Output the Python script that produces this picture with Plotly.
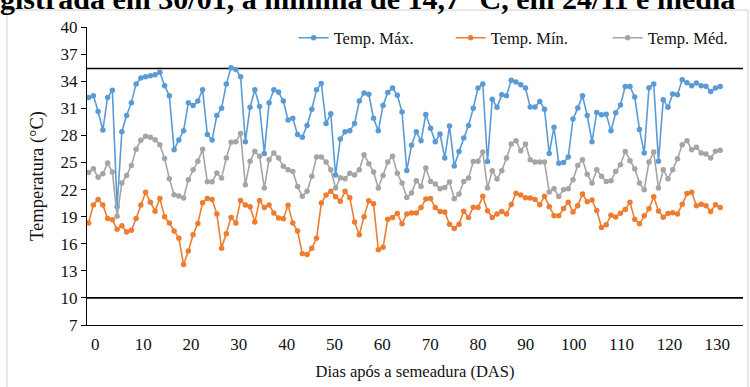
import plotly.graph_objects as go

t_max = [32.2, 32.4, 30.65, 28.6, 32.2, 33.0, 20.1, 28.4, 30.2, 31.6,
         33.7, 34.35, 34.5, 34.6, 34.7, 35.0, 33.5, 32.4, 26.4, 27.5,
         28.5, 31.6, 31.3, 31.8, 33.05, 28.1, 27.5, 30.2, 31.0, 33.7,
         35.5, 35.3, 34.5, 27.3, 31.1, 33.05, 31.2, 26.0, 31.6, 33.05,
         32.8, 31.8, 29.7, 29.9, 28.1, 27.8, 29.1, 30.9, 33.05, 33.75,
         29.3, 30.4, 23.6, 27.6, 28.4, 28.5, 29.3, 31.8, 32.7, 32.55,
         29.9, 28.5, 31.3, 32.76, 33.24, 32.45, 30.6, 24.1, 26.9, 28.4,
         27.4, 30.3, 28.8, 27.3, 28.15, 25.5, 29.05, 24.6, 26.2, 27.7,
         29.1, 31.0, 33.24, 33.7, 25.1, 32.0, 31.1, 32.5, 32.4, 34.1,
         33.9, 33.6, 33.24, 31.13, 31.13, 31.76, 30.9, 26.0, 28.9, 24.9,
         25.0, 25.6, 29.8, 31.02, 32.4, 30.2, 27.3, 30.54, 30.29, 30.33,
         28.5, 30.5, 31.35, 33.42, 33.4, 32.24, 28.65, 26.04, 33.28, 33.7,
         25.12, 31.95, 31.12, 32.58, 32.5, 34.16, 33.83, 33.5, 33.8, 33.5,
         33.43, 32.85, 33.24, 33.4]

t_min = [18.3, 20.3, 20.9, 20.3, 18.8, 18.65, 17.6, 18.0, 17.3, 17.5,
         18.8, 20.3, 21.7, 20.6, 19.6, 21.0, 19.0, 18.3, 17.4, 16.6,
         13.7, 15.2, 17.0, 18.25, 20.55, 21.0, 20.9, 19.3, 15.5, 17.1,
         18.9, 18.3, 20.8, 20.3, 20.1, 18.4, 20.8, 20.0, 20.3, 19.4,
         18.84, 18.77, 20.25, 18.3, 17.4, 14.9, 14.8, 15.5, 16.6, 20.5,
         21.4, 21.8, 21.2, 20.7, 21.8, 21.1, 18.4, 17.0, 19.0, 20.76,
         20.43, 15.34, 15.6, 18.7, 18.9, 19.35, 18.2, 19.3, 19.4, 19.4,
         20.0, 20.95, 21.0, 20.0, 19.58, 19.5, 18.15, 17.7, 18.15, 19.6,
         18.9, 20.05, 20.0, 21.25, 19.65, 18.9, 19.3, 19.58, 19.3, 20.35,
         21.6, 21.4, 21.1, 21.06, 20.9, 20.32, 21.25, 20.1, 19.1, 19.1,
         19.9, 20.6, 19.5, 20.2, 21.5, 20.65, 20.85, 19.67, 17.8, 18.1,
         19.15, 18.95, 19.38, 19.8, 20.58, 18.7, 18.2, 19.1, 19.86, 21.2,
         19.63, 18.94, 19.35, 19.43, 19.3, 20.36, 21.55, 21.7, 20.2, 20.36,
         20.2, 19.58, 20.32, 20.0]

t_med = [23.9, 24.3, 23.35, 23.75, 24.93, 23.94, 19.05, 22.72, 23.55, 24.67,
         26.45, 27.45, 27.9, 27.8, 27.52, 26.96, 25.45, 23.2, 21.43, 21.28,
         21.06, 23.09, 24.2, 25.12, 26.45, 22.85, 22.85, 23.83, 23.27, 25.5,
         27.24, 27.3, 28.2, 22.53, 25.12, 26.23, 25.68, 22.17, 25.31, 26.05,
         25.49, 24.57, 24.2, 24.01, 22.35, 21.25, 21.8, 23.46, 25.6, 25.6,
         25.05, 24.2, 22.17, 23.3, 23.2, 23.8, 23.6, 24.2, 25.86, 24.85,
         23.94, 22.16, 23.55, 25.05, 25.7, 23.8, 22.72, 21.13, 21.61, 22.98,
         22.35, 24.38, 22.9, 22.61, 22.09, 22.24, 22.83, 20.98, 21.5, 22.9,
         23.27, 25.1, 25.12, 26.15, 22.16, 24.09, 23.16, 24.09, 25.49, 27.04,
         27.41, 26.3, 27.04, 25.3, 25.04, 25.04, 25.04, 21.72, 22.09, 21.24,
         21.98, 22.09, 23.09, 24.67, 25.3, 23.7, 22.72, 24.2, 23.46, 22.9,
         22.98, 24.01, 24.75, 26.22, 25.19, 24.3, 22.72, 21.98, 25.04, 26.15,
         22.16, 24.2, 23.2, 24.2, 25.41, 26.96, 27.41, 26.41, 26.67, 26.04,
         25.93, 25.49, 26.23, 26.34]

days = list(range(len(t_max)))
x_tick_labels = [0, 10, 20, 30, 40, 50, 60, 70, 80, 90, 100, 110, 120, 130]
y_ticks = [7, 10, 13, 16, 19, 22, 25, 28, 31, 34, 37, 40]
limits = [35.4, 10]

series = [
    ("Temp. Máx.", t_max, "#5B9BD5"),
    ("Temp. Mín.", t_min, "#ED7D31"),
    ("Temp. Méd.", t_med, "#A5A5A5"),
]

FONT = "Liberation Serif"
TXT = "#111111"

fig = go.Figure()
for name, vals, col in series:
    fig.add_trace(go.Scatter(
        x=days, y=vals, name=name, mode="lines+markers",
        line=dict(color=col, width=1.6),
        marker=dict(color=col, size=5.5, symbol="circle"),
    ))

for lv in limits:
    fig.add_shape(type="line", xref="paper", x0=0, x1=1, yref="y", y0=lv, y1=lv,
                  line=dict(color="black", width=1.6), layer="below")

# chart frame
fig.add_shape(type="rect", xref="paper", yref="paper",
              x0=-0.122, x1=1.0076, y0=-0.3, y1=1.057,
              line=dict(color="#d0d0d0", width=1))

fig.add_annotation(text="<b>gistrada em 30/01, a mínima de 14,7 °C, em 24/11 e média</b>",
                   xref="paper", yref="paper", x=-0.135, y=1.097,
                   xanchor="left", yanchor="middle", showarrow=False,
                   font=dict(family=FONT, size=30, color="black"))

tick_pos = [1.41 + 1.0074 * v for v in x_tick_labels]

fig.update_layout(
    width=750, height=387,
    margin=dict(l=87, r=7, t=27, b=62, autoexpand=False),
    paper_bgcolor="white", plot_bgcolor="white",
    font=dict(family=FONT, size=16, color=TXT),
    showlegend=True,
    legend=dict(orientation="h", x=0.315, xanchor="left", y=0.963, yanchor="middle",
                font=dict(family=FONT, size=16.5, color=TXT),
                bgcolor="rgba(0,0,0,0)", itemwidth=30, entrywidth=112,
                entrywidthmode="pixels", tracegroupgap=0),
    xaxis=dict(range=[-0.34, 137.8], tickmode="array", tickvals=tick_pos,
               ticktext=[str(v) for v in x_tick_labels],
               showgrid=False, zeroline=False, showline=True, linecolor="black",
               linewidth=1.2, ticks="", ticklabelstandoff=3,
               tickfont=dict(family=FONT, size=17, color=TXT),
               title=dict(text="Dias após a semeadura (DAS)", standoff=12,
                          font=dict(family=FONT, size=16.5, color=TXT))),
    yaxis=dict(range=[7, 40], tickmode="array", tickvals=y_ticks,
               showgrid=False, zeroline=False, showline=True, linecolor="black",
               linewidth=1, ticks="outside", ticklen=5, tickcolor="black",
               tickfont=dict(family=FONT, size=17, color=TXT),
               title=dict(text="Temperatura (°C)", standoff=12,
                          font=dict(family=FONT, size=18.5, color=TXT))),
)

fig.write_html("out.html")
